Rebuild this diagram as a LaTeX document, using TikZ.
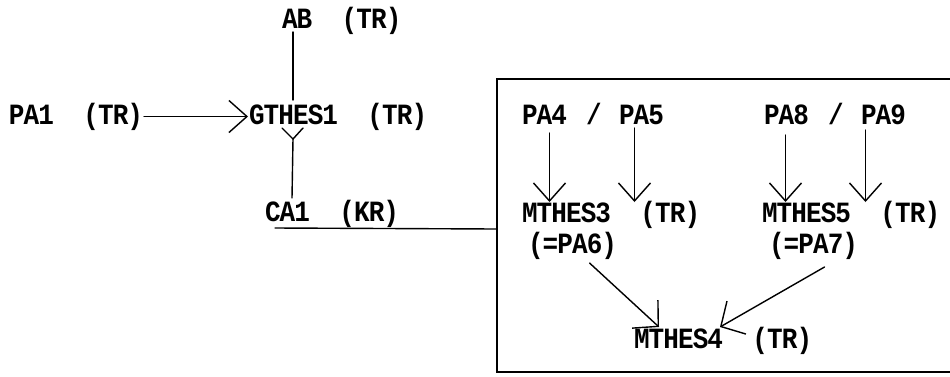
\documentclass[tikz,border=0pt]{standalone}
\usepackage{fontspec}
\usepackage{graphicx}
\setmainfont{Liberation Mono}
\newfontfamily\twfont[LetterSpace=-3.5]{Liberation Mono}
\usetikzlibrary{arrows.meta,calc}
\newcommand{\tallt}[1]{\scalebox{1}[1.13]{#1}}
\tikzset{
  lbl/.style={inner sep=0pt, outer sep=0pt, anchor=base west, text height=17pt, text depth=0pt,
    font=\twfont\bfseries\fontsize{26}{26}\selectfont},
  conn/.style={line width=1.4pt, line cap=round},
  arr/.style={conn, -{Straight Barb[length=18pt,width=32pt,line width=1.4pt]}},
  arrw/.style={conn, -{Straight Barb[length=18pt,width=38pt,line width=1.4pt]}},
}
\begin{document}
\begin{tikzpicture}[x=1pt,y=-1pt]
\useasboundingbox (0,0) rectangle (950,376);
% nodes
\node[lbl] (ab) at (282,28) {\tallt{AB~~(TR)}};
\node[lbl] (pa1) at (9,124) {\tallt{PA1~~(TR)}};
\node[lbl] (gthes1) at (249,124) {\tallt{GTHES1~~(TR)}};
\node[lbl] (ca1) at (265,221) {\tallt{CA1~~(KR)}};
\node[lbl] (pa4) at (522,124) {\tallt{PA4}};
\node[lbl] (sl1) at (586,124) {\tallt{/}};
\node[lbl] (pa5) at (619,124) {\tallt{PA5}};
\node[lbl] (pa8) at (764,124) {\tallt{PA8}};
\node[lbl] (sl2) at (828,124) {\tallt{/}};
\node[lbl] (pa9) at (861,124) {\tallt{PA9}};
\node[lbl] (mthes3) at (522,222) {\tallt{MTHES3~~(TR)}};
\node[lbl] (pa6) at (528,253) {\tallt{(=PA6)}};
\node[lbl] (mthes5) at (762,222) {\tallt{MTHES5~~(TR)}};
\node[lbl] (pa7) at (769,253) {\tallt{(=PA7)}};
\node[lbl] (mthes4) at (634,348) {\tallt{MTHES4~~(TR)}};
% box
\coordinate (bxtl) at (497,79);
\coordinate (bxbl) at (497,372);
\draw[conn] (950,79) -- (bxtl) -- (bxbl) -- (950,372);
% left part
\draw[conn] ($(ab.south west)+(11,4)$) -- ($(gthes1.north west)+(44,-7)$);
\draw[arr] ($(pa1.east)+(1,1)$) -- ($(gthes1.west)+(-1,1)$);
\coordinate (gv) at ($(ca1.north west)+(28,-65)$);
\draw[conn] ($(ca1.north west)+(27,-6)$) -- (gv);
\draw[conn] ($(gv)+(-11,-11)$) -- (gv) -- ($(gv)+(10,-11)$);
\coordinate (cau) at ($(ca1.base west)+(10,7)$);
\coordinate (cajoin) at (bxtl |- 0,229);
\draw[conn] (cau) -- (cajoin);
% box arrows
\draw[arr] ($(pa4.south)+(5,9)$) -- ($(pa4.south |- mthes3.north)+(5,-3)$);
\draw[arr] ($(pa5.south)+(-7,4)$) -- ($(pa5.south |- mthes3.north)+(-7,-3)$);
\draw[arr] ($(pa8.south)+(-1,11)$) -- ($(pa8.south |- mthes5.north)+(-1,-3)$);
\draw[arr] ($(pa9.south)+(-18,6)$) -- ($(pa9.south |- mthes5.north)+(-18,-3)$);
\draw[arrw] ($(pa6.south)+(17,10)$) -- ($(mthes4.north west)+(25,-4)$);
\draw[arrw] ($(pa7.south)+(11,14)$) -- ($(mthes4.north west)+(86,-4)$);
\end{tikzpicture}
\end{document}
